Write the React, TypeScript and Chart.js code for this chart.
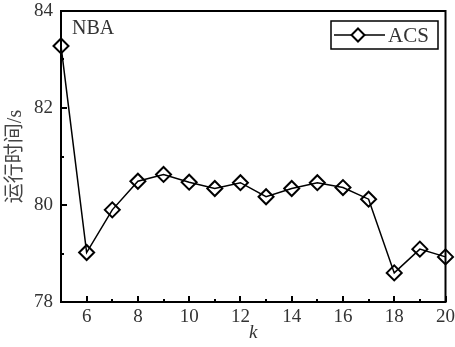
import React, { useEffect, useRef } from "react";
import { Chart, registerables } from "chart.js";

Chart.register(...registerables);

const kValues = [5, 6, 7, 8, 9, 10, 11, 12, 13, 14, 15, 16, 17, 18, 19, 20];
const acsTimes = [83.28, 79.02, 79.9, 80.49, 80.63, 80.47, 80.34, 80.46, 80.17, 80.34, 80.46, 80.36, 80.12, 78.6, 79.09, 78.93];
const seriesName = "ACS";
const datasetLabel = "NBA";
const xTitle = "k";
const yTitle = "运行时间/s";

const SERIF = '"Liberation Serif", "Times New Roman", serif';
const TEXT = "#333";

const framePlugin = {
  id: "frame",
  afterDraw(chart: any) {
    const { ctx, chartArea, scales } = chart;
    const { left, right, top, bottom } = chartArea;
    ctx.save();
    ctx.strokeStyle = "#000";
    ctx.lineWidth = 2;
    ctx.strokeRect(left, top, right - left, bottom - top);
    // inward ticks
    const xs = scales.x;
    for (let v = 5; v <= 20; v++) {
      const px = Math.round(xs.getPixelForValue(v));
      const len = v % 2 === 0 ? 6 : 3;
      ctx.beginPath();
      ctx.moveTo(px, bottom);
      ctx.lineTo(px, bottom - len);
      ctx.stroke();
    }
    const ys = scales.y;
    for (let v = 78; v <= 84; v++) {
      const py = Math.round(ys.getPixelForValue(v));
      const len = v % 2 === 0 ? 6 : 3;
      ctx.beginPath();
      ctx.moveTo(left, py);
      ctx.lineTo(left + len, py);
      ctx.stroke();
    }
    // dataset label
    ctx.fillStyle = TEXT;
    ctx.font = `20px ${SERIF}`;
    ctx.textAlign = "left";
    ctx.textBaseline = "middle";
    ctx.fillText(datasetLabel, left + 11, top + 18);
    // legend
    const bx = 331, by = 21, bw = 107, bh = 28;
    ctx.lineWidth = 1.5;
    ctx.strokeStyle = "#000";
    ctx.strokeRect(bx, by, bw, bh);
    const ly = by + bh / 2;
    ctx.beginPath();
    ctx.moveTo(bx + 3, ly);
    ctx.lineTo(bx + 54, ly);
    ctx.stroke();
    const cx = bx + 27, r = 6.5;
    ctx.beginPath();
    ctx.moveTo(cx, ly - r);
    ctx.lineTo(cx + r, ly);
    ctx.lineTo(cx, ly + r);
    ctx.lineTo(cx - r, ly);
    ctx.closePath();
    ctx.fillStyle = "#fff";
    ctx.fill();
    ctx.lineWidth = 2;
    ctx.stroke();
    ctx.fillStyle = TEXT;
    ctx.font = `21px ${SERIF}`;
    ctx.fillText(chart.data.datasets[0].label, bx + 57, ly + 1);
    ctx.restore();
  },
};

export default function App() {
  const ref = useRef<HTMLCanvasElement | null>(null);
  useEffect(() => {
    if (!ref.current) return;
    const chart = new Chart(ref.current, {
      type: "line",
      data: {
        datasets: [
          {
            label: seriesName,
            data: kValues.map((k, i) => ({ x: k, y: acsTimes[i] })),
            borderColor: "#000",
            borderWidth: 1.5,
            pointStyle: "rectRot",
            pointRadius: 7.5,
            pointBackgroundColor: "rgba(255,255,255,0)",
            pointBorderColor: "#000",
            pointBorderWidth: 2,
            tension: 0,
            clip: false as any,
          },
        ],
      },
      options: {
        animation: false,
        responsive: false,
        layout: { padding: { left: 0, top: 11, right: 8, bottom: 0 } },
        plugins: { legend: { display: false }, tooltip: { enabled: false } },
        scales: {
          x: {
            type: "linear",
            min: 5,
            max: 20,
            grid: { display: false, drawTicks: false },
            border: { display: false },
            ticks: {
              stepSize: 1,
              autoSkip: false,
              maxRotation: 0,
              padding: 4,
              color: TEXT,
              font: { family: SERIF, size: 19 },
              callback: (v: any) => (Number(v) % 2 === 0 ? String(v) : ""),
            },
            title: {
              display: true,
              text: xTitle,
              color: TEXT,
              font: { family: SERIF, size: 19, style: "italic" },
              padding: { top: 0, bottom: 3 },
            },
            afterFit: (s: any) => {
              s.height = 45;
              s.paddingLeft = 0;
              s.paddingRight = 0;
            },
          },
          y: {
            type: "linear",
            min: 78,
            max: 84,
            grid: { display: false, drawTicks: false },
            border: { display: false },
            ticks: {
              stepSize: 1,
              autoSkip: false,
              padding: 8,
              color: TEXT,
              font: { family: SERIF, size: 19 },
              callback: (v: any) => (Number(v) % 2 === 0 ? String(v) : ""),
            },
            title: {
              display: true,
              text: yTitle,
              color: "#444",
              font: { family: '"Liberation Serif", "Noto Sans CJK SC", serif', size: 20 },
              padding: { top: 4, bottom: 0 },
            },
            afterFit: (s: any) => {
              s.width = 61;
              s.paddingTop = 0;
              s.paddingBottom = 0;
            },
          },
        },
      },
      plugins: [framePlugin],
    });
    return () => chart.destroy();
  }, []);
  return (
    <div style={{ position: "absolute", left: 0, top: 0, width: 455, height: 347, background: "#fff" }}>
      <canvas ref={ref} width={455} height={347} />
    </div>
  );
}
